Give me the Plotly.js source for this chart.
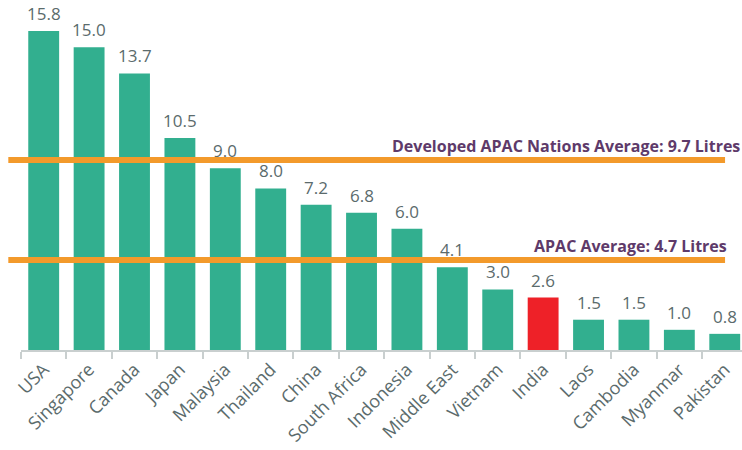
<!DOCTYPE html>
<html>
<head>
<meta charset="utf-8">
<script src="https://cdn.plot.ly/plotly-3.0.1.min.js"></script>
<style>html,body{margin:0;padding:0;background:#fff}#chart{width:742px;height:450px}</style>
</head>
<body>
<div id="chart"></div>
<script>
const categories = ["USA","Singapore","Canada","Japan","Malaysia","Thailand","China","South Africa","Indonesia","Middle East","Vietnam","India","Laos","Cambodia","Myanmar","Pakistan"];
const values = [15.8,15.0,13.7,10.5,9.0,8.0,7.2,6.8,6.0,4.1,3.0,2.6,1.5,1.5,1.0,0.8];
const highlight = "India";
const avgLabels = ["Developed APAC Nations Average: 9.7 Litres","APAC Average: 4.7 Litres"];
const avgLevels = [9.41, 4.46];

const GREEN = "#32AF8F", RED = "#EE2128", ORANGE = "#F39A2B", GREY = "#5B6B6C", PURPLE = "#5E3A6A";
const FONT = "Open Sans, sans-serif";
const labelRight = [1.0, 0.982];

const trace = {
  type: "bar",
  x: categories,
  y: values,
  marker: {color: categories.map(c => c === highlight ? RED : GREEN)},
  hoverinfo: "x+y",
  cliponaxis: false
};

const annotations = categories.map((c, i) => ({
  x: c, y: values[i], xref: "x", yref: "y",
  text: values[i].toFixed(1), showarrow: false,
  yanchor: "bottom", yshift: 4,
  font: {family: FONT, size: 17, color: GREY}
}));
avgLabels.forEach((t, i) => annotations.push({
  xref: "paper", yref: "y", x: labelRight[i], y: avgLevels[i],
  xanchor: "right", yanchor: "bottom", yshift: 1,
  text: "<b>" + t + "</b>", showarrow: false,
  font: {family: FONT, size: 16, color: PURPLE}
}));

const shapes = avgLevels.map(v => ({
  type: "line", xref: "paper", yref: "y",
  x0: -0.0176, x1: 0.9765, y0: v, y1: v,
  line: {color: ORANGE, width: 6}
}));

const layout = {
  width: 742, height: 450,
  margin: {l: 21, r: 0, t: 10, b: 100, pad: 0},
  paper_bgcolor: "#fff", plot_bgcolor: "#fff",
  bargap: 0.32,
  showlegend: false,
  xaxis: {
    type: "category", range: [-0.5, 15.38],
    showline: true, linecolor: "#C9CFCF", linewidth: 2,
    ticks: "outside", tickson: "boundaries", ticklen: 7, tickwidth: 2, tickcolor: "#C9CFCF",
    tickangle: -45, tickfont: {family: FONT, size: 18, color: GREY},
    showgrid: false, zeroline: false
  },
  yaxis: {
    range: [0, 16.84], visible: false, showgrid: false, zeroline: false
  },
  shapes: shapes,
  annotations: annotations
};

Plotly.newPlot("chart", [trace], layout, {displayModeBar: false, staticPlot: true});
</script>
</body>
</html>
